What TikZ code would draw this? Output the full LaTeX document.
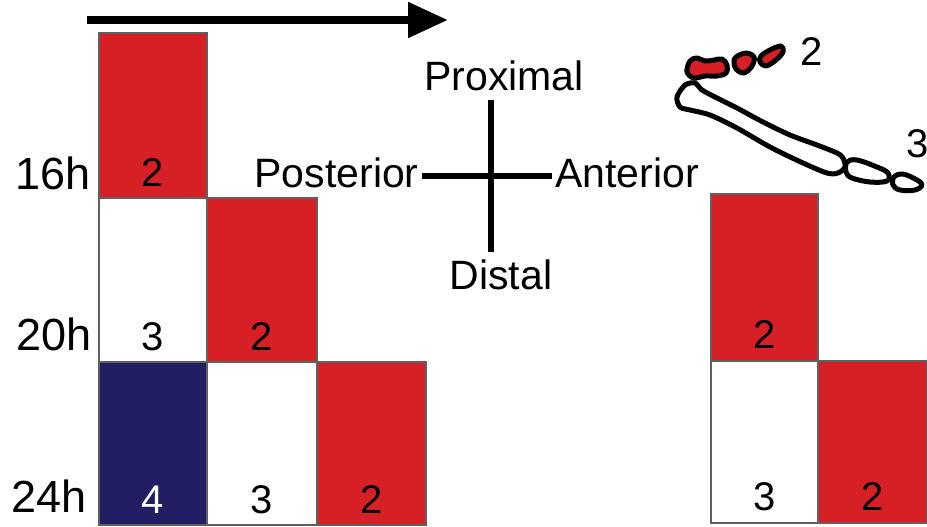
\documentclass[tikz,border=0pt]{standalone}
\usepackage{fontspec}
\setmainfont{Liberation Sans}
\usetikzlibrary{arrows.meta}

\definecolor{cellred}{RGB}{215,31,38}
\definecolor{cellnavy}{RGB}{34,30,100}

\begin{document}
\begin{tikzpicture}[x=0.5pt,y=-0.5pt,
    cellbox/.style={draw=gray!75!black,line width=0.7pt},
    cellnum/.style={font=\fontsize{20}{24}\selectfont,inner sep=0pt,anchor=base},
    rowlabel/.style={font=\fontsize{22.5}{26}\selectfont,inner sep=0pt,anchor=base east},
    dirlabel/.style={font=\fontsize{20.5}{24}\selectfont,inner sep=0pt},
    axisline/.style={line width=3.4pt},
    timearrow/.style={line width=4pt,-{Triangle[length=20pt,width=17pt]}},
    bone/.style={line width=2.5pt,line join=round},
    bonelabel/.style={font=\fontsize{20}{24}\selectfont,inner sep=0pt,anchor=base}]

  \useasboundingbox (0,0) rectangle (927,526);

  % --- time arrow ---
  \coordinate (tstart) at (87,20);
  \coordinate (tend) at (448,20);
  \draw[timearrow] (tstart) -- (tend);

  % --- left panel: cells x1/y1/x2/y2/fill/number/text colour ---
  \foreach \xa/\ya/\xb/\yb/\fc/\n/\tc [count=\i] in {
      99/33/207/198/cellred/2/black,
      99/198/207/362/white/3/black,
      207/198/317/362/cellred/2/black,
      99/362/207/525/cellnavy/4/white,
      207/362/317/525/white/3/black,
      317/362/426/525/cellred/2/black} {
    \draw[cellbox,fill=\fc] (\xa,\ya) rectangle (\xb,\yb);
    \node[cellnum,text=\tc] (L\i) at ({(\xa+\xb)/2},\yb-12) {\n};
  }
  \node[rowlabel] (r16) at (91,189) {16h};
  \node[rowlabel] (r20) at (92,350) {20h};
  \node[rowlabel] (r24) at (87,512) {24h};

  % --- axes cross ---
  \coordinate (hub) at (491,176);
  \node[dirlabel,anchor=base] (prox) at (504,90) {Proximal};
  \node[dirlabel,anchor=base] (dist) at (501,289) {Distal};
  \node[dirlabel,anchor=base east] (post) at (419,187) {Posterior};
  \node[dirlabel,anchor=base west] (ant) at (555,187) {Anterior};
  \draw[axisline,shorten <=4.5pt,shorten >=3.5pt] (prox.south -| hub) -- (dist.north -| hub);
  \draw[axisline,shorten <=1.5pt,shorten >=1.5pt] (post.east |- hub) -- (ant.west |- hub);

  % --- right panel ---
  \foreach \xa/\ya/\xb/\yb/\fc/\n [count=\i] in {
      711/194/818/361/cellred/2,
      711/361/818/523/white/3,
      818/361/927/523/cellred/2} {
    \draw[cellbox,fill=\fc] (\xa,\ya) rectangle (\xb,\yb);
    \node[cellnum] (R\i) at ({(\xa+\xb)/2},\yb-13) {\n};
  }

  % --- digit sketch: red phalanges ---
  \draw[bone,fill=cellred] plot[smooth cycle,tension=0.6] coordinates
    {(690,61) (697,58) (705,61) (714,60) (722,59) (727,65) (726,73) (717,76) (705,76) (694,78) (687,72)};
  \draw[bone,fill=cellred] plot[smooth cycle,tension=0.6] coordinates
    {(736,57) (746,53) (754,57) (752,66) (744,73) (736,69) (734,62)};
  \draw[bone,fill=cellred] plot[smooth cycle,tension=0.6] coordinates
    {(761,56) (770,50) (781,46) (783,52) (776,60) (766,66) (760,62)};
  \node[bonelabel] (d2) at (812,65) {2};

  % --- digit sketch: long bone and two small ones ---
  \draw[bone,fill=white] plot[smooth cycle,tension=0.5] coordinates
    {(685,85) (695,83) (702,90) (717,98) (737,108) (763,122) (790,135) (817,145) (837,153)
     (843,158) (845,167) (838,173) (827,173) (803,163) (770,147) (737,128) (710,115)
     (690,110) (680,107) (677,97)};
  \draw[bone,fill=white] plot[smooth cycle,tension=0.6] coordinates
    {(847,162) (857,160) (877,167) (888,173) (887,181) (870,182) (852,178) (846,172)};
  \draw[bone,fill=white] plot[smooth cycle,tension=0.6] coordinates
    {(894,177) (903,174) (917,180) (922,185) (915,190) (900,190) (893,185)};
  \node[bonelabel] (d3) at (918,157) {3};

\end{tikzpicture}
\end{document}
